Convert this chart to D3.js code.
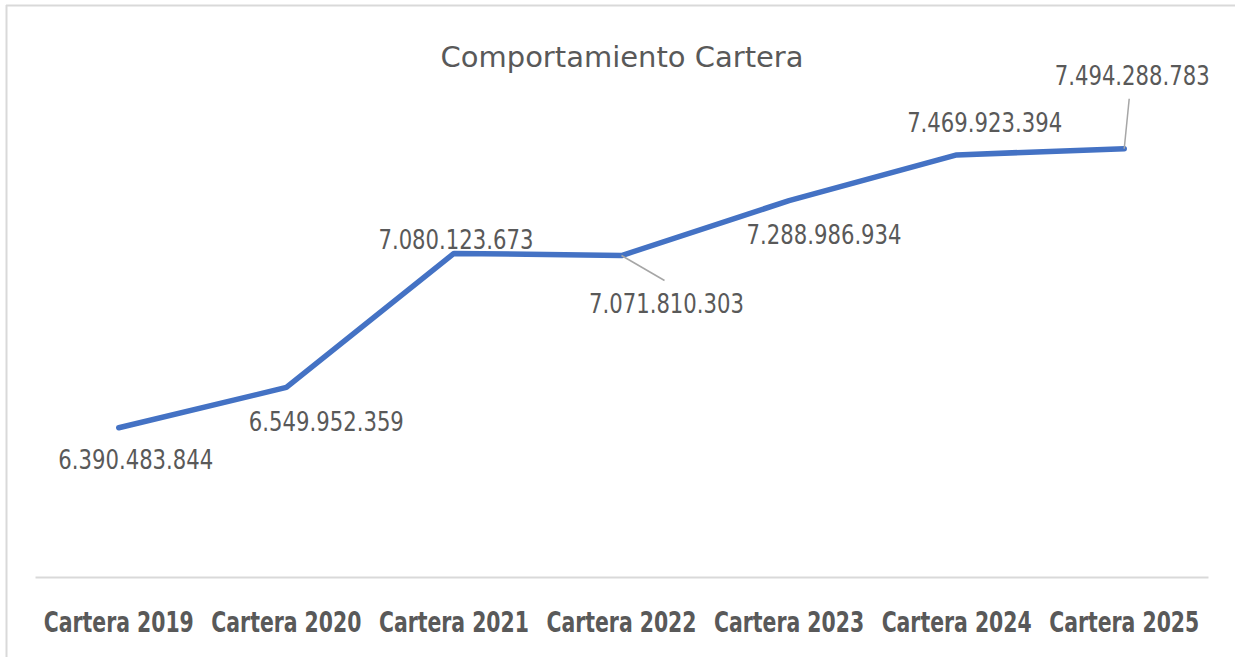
<!DOCTYPE html>
<html><head><meta charset="utf-8">
<script src="https://cdn.jsdelivr.net/npm/d3@7"></script>
<style>
html,body{margin:0;padding:0;background:#fff;}
svg{display:block;}
text{font-family:"Liberation Sans Narrow","DejaVu Sans Condensed","Roboto",sans-serif;}
</style></head>
<body><svg id="chart" width="1235" height="657"></svg>
<script>
const categories = ["Cartera 2019","Cartera 2020","Cartera 2021","Cartera 2022","Cartera 2023","Cartera 2024","Cartera 2025"];
const values = [6390483844, 6549952359, 7080123673, 7071810303, 7288986934, 7469923394, 7494288783];
const titleText = "Comportamiento Cartera";
const yDomain = [5800000000, 7600000000];
// label offsets relative to the point (dx, dy of text center) and leader-line flags
const labelDx = [17, 40, 2, 45, 35, 28, 8];
const labelDy = [31, 34, -14, 47, 33, -33, -74];
const leader = [false, false, false, true, false, false, true];

const fmt = v => d3.format(",")(v).replace(/,/g, ".");

const svg = d3.select("#chart");
// frame
svg.append("line").attr("x1",6).attr("x2",1235).attr("y1",5.5).attr("y2",5.5).attr("stroke","#d9d9d9").attr("stroke-width",2);
svg.append("line").attr("x1",6.5).attr("x2",6.5).attr("y1",5).attr("y2",657).attr("stroke","#d9d9d9").attr("stroke-width",2);

const x = d3.scaleBand().domain(categories).range([35, 1208]);
const y = d3.scaleLinear().domain(yDomain).range([577, 122]);
const cx = c => x(c) + x.bandwidth() / 2;

// title
svg.append("text").attr("x", 622).attr("y", 67).attr("text-anchor","middle")
  .attr("font-size", 28).attr("fill","#595959")
  .attr("textLength", 363).attr("lengthAdjust","spacingAndGlyphs").text(titleText);

// axis
const axis = d3.axisBottom(x).tickSize(0).tickPadding(0);
const gAxis = svg.append("g").attr("transform","translate(0,577)").call(axis);
gAxis.select(".domain").attr("stroke","#d9d9d9").attr("stroke-width",2);
gAxis.selectAll("text").attr("dy", null).attr("y", 55)
  .attr("font-size", 28).attr("font-weight","bold").attr("fill","#595959")
  .attr("font-family",'"Liberation Sans Narrow","DejaVu Sans Condensed","Roboto",sans-serif')
  .attr("textLength",150).attr("lengthAdjust","spacingAndGlyphs");

// line
const data = categories.map((c,i)=>({c, v: values[i], i}));
const line = d3.line().x(d=>cx(d.c)).y(d=>y(d.v));
svg.append("path").datum(data).attr("d", line).attr("fill","none")
  .attr("stroke","#4472C4").attr("stroke-width",5.5)
  .attr("stroke-linecap","round").attr("stroke-linejoin","round");

// leader lines
data.filter(d=>leader[d.i]).forEach(d=>{
  const px = cx(d.c), py = y(d.v);
  const tx = px + labelDx[d.i], ty = py + labelDy[d.i];
  let x2, y2;
  if (labelDy[d.i] > 0) { x2 = px + 43; y2 = py + 25; }
  else { x2 = px + 5; y2 = py - 50; }
  svg.append("line").attr("x1",px).attr("y1",py).attr("x2",x2).attr("y2",y2)
    .attr("stroke","#a6a6a6").attr("stroke-width",1.5);
});

// data labels
svg.selectAll("text.lbl").data(data).join("text").attr("class","lbl")
  .attr("x", d=>cx(d.c)+labelDx[d.i]).attr("y", d=>y(d.v)+labelDy[d.i]+10)
  .attr("text-anchor","middle").attr("font-size",27).attr("fill","#595959")
  .attr("textLength",155).attr("lengthAdjust","spacingAndGlyphs")
  .text(d=>fmt(d.v));
</script></body></html>
